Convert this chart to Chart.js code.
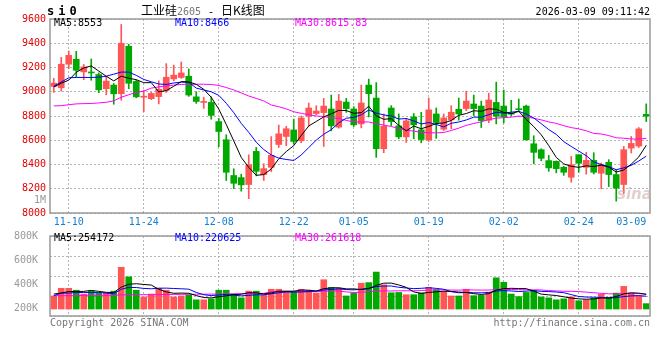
<!DOCTYPE html>
<html><head><meta charset="utf-8">
<script src="https://cdn.jsdelivr.net/npm/chart.js@4.4.1/dist/chart.umd.min.js"></script>
<style>
body{margin:0;background:#fff}
#wrap{position:relative;width:660px;height:360px;overflow:hidden;background:#fff}
canvas{position:absolute;left:0}
.t{position:absolute;font-family:"DejaVu Sans Mono",monospace;font-size:10px;line-height:12px;white-space:nowrap}
</style></head><body>
<div id="wrap">
<canvas id="pc" width="660" height="232" style="top:0"></canvas>
<canvas id="vc" width="660" height="100" style="top:226px"></canvas>
<div class="t" style="left:47px;top:5px;font-size:12px;font-weight:bold;letter-spacing:4px">si0</div>
<div class="t" style="left:141px;top:2px;font-size:12px;line-height:16px;font-family:'Noto Sans CJK SC',sans-serif;color:#000">工业硅<span style="font-family:'DejaVu Sans Mono',monospace;font-size:10px;color:#777">2605</span><span style="font-family:'DejaVu Sans Mono',monospace;font-size:11px"> - </span>日K线图</div>
<div class="t" style="right:10px;top:6px;color:#000">2026-03-09 09:11:42</div>
<div class="t" style="left:54px;top:17px;color:#000">MA5:8553</div>
<div class="t" style="left:175px;top:17px;color:#0000ff">MA10:8466</div>
<div class="t" style="left:295px;top:17px;color:#ff00ff">MA30:8615.83</div>
<div class="t" style="left:0;width:46px;text-align:right;top:194px;color:#999">1M</div>
<div class="t" style="left:54px;top:232px;color:#000">MA5:254172</div>
<div class="t" style="left:175px;top:232px;color:#0000ff">MA10:220625</div>
<div class="t" style="left:295px;top:232px;color:#ff00ff">MA30:261618</div>
<div class="t" style="left:50px;top:317px;color:#777">Copyright 2026 SINA.COM</div>
<div class="t" style="right:10px;top:317px;color:#777">http://finance.sina.com.cn</div>
<div class="t" style="left:617px;top:188px;font-family:'DejaVu Sans',sans-serif;font-size:15px;font-weight:bold;font-style:italic;color:rgba(200,170,170,0.55)">sina</div>
</div>
<script>
// ---- data ----
const dates = ['11-06','11-07','11-10','11-11','11-12','11-13','11-14','11-17','11-18','11-19','11-20','11-21','11-24','11-25','11-26','11-27','11-28','12-01','12-02','12-03','12-04','12-05','12-08','12-09','12-10','12-11','12-12','12-15','12-16','12-17','12-18','12-19','12-22','12-23','12-24','12-25','12-26','12-29','12-30','12-31','01-05','01-06','01-07','01-08','01-09','01-12','01-13','01-14','01-15','01-16','01-19','01-20','01-21','01-22','01-23','01-26','01-27','01-28','01-29','01-30','02-02','02-03','02-04','02-05','02-06','02-09','02-10','02-11','02-12','02-13','02-24','02-25','02-26','02-27','03-02','03-03','03-04','03-05','03-06','03-09'];
const tickDates = ['11-10','11-24','12-08','12-22','01-05','01-19','02-02','02-24','03-09'];
const openP  = [9044,9033,9227,9268,9164,9160,9142,9025,9055,8984,9375,9085,8955,8943,8960,9011,9106,9118,9128,8958,8912,8912,8754,8604,8309,8292,8235,8508,8317,8377,8565,8631,8685,8596,8798,8820,8828,8858,8708,8915,8858,8735,9055,8948,8530,8866,8719,8628,8792,8686,8604,8817,8691,8768,8855,8861,8899,8882,8765,8912,8882,8825,8858,8882,8571,8522,8432,8426,8377,8295,8481,8377,8434,8328,8418,8317,8235,8535,8552,8814];
const closeP = [9071,9227,9300,9177,9205,9155,9016,9088,8983,9400,9070,8958,8962,8986,9020,9120,9137,9155,8973,8920,8916,8805,8672,8336,8245,8232,8397,8344,8366,8475,8653,8695,8590,8784,8866,8841,8882,8719,8923,8861,8727,8907,8984,8530,8716,8754,8628,8760,8727,8606,8850,8746,8784,8831,8817,8923,8861,8762,8932,8798,8792,8815,8852,8604,8500,8451,8372,8366,8336,8399,8410,8434,8336,8396,8317,8205,8522,8574,8694,8798];
const highP  = [9110,9284,9336,9333,9225,9270,9156,9123,9068,9555,9392,9096,9014,8995,9090,9232,9220,9246,9188,9000,8955,8959,8780,8645,8365,8320,8480,8541,8407,8630,8725,8715,8774,8800,8907,8885,8945,8973,8978,8945,8877,9055,9104,9076,8817,8885,8817,8781,8820,8831,8948,8866,8817,8885,8948,9005,8973,8923,8989,9079,9014,8930,8940,8890,8637,8530,8475,8430,8385,8467,8481,8500,8497,8412,8440,8358,8549,8631,8705,8900];
const lowP   = [8995,9005,9190,9120,9100,9095,8992,8975,8897,8930,9025,8950,8836,8935,8900,8995,9090,9110,8962,8904,8863,8773,8547,8268,8202,8180,8118,8306,8268,8340,8540,8555,8569,8580,8718,8810,8549,8677,8699,8830,8713,8702,8792,8459,8497,8721,8612,8582,8612,8579,8590,8615,8680,8694,8765,8844,8803,8705,8745,8735,8743,8800,8835,8600,8407,8430,8344,8331,8311,8254,8336,8320,8322,8200,8218,8098,8161,8495,8540,8754];
const volume = [227000,360000,360000,327000,260000,310000,277000,277000,310000,725000,559000,327000,210000,260000,360000,327000,210000,227000,243000,160000,160000,177000,327000,327000,260000,194000,310000,310000,243000,343000,343000,310000,310000,343000,327000,277000,509000,376000,360000,227000,277000,448000,459000,642000,420000,282000,288000,249000,249000,282000,376000,338000,304000,227000,227000,343000,232000,238000,293000,542000,465000,260000,216000,288000,321000,210000,194000,160000,177000,210000,144000,160000,188000,255000,205000,277000,393000,277000,227000,94000];
// moving-average values before enough history is visible
const ma5Head  = [9040,9070,9096,9160];
const ma10Head = [9045,9080,9115,9118,9118,9118,9120,9128,9145];
const ma30Head = [8883,8885,8893,8900,8902,8903,8908,8913,8925,8955,8975,8995,9005,9030,9040,9048,9055,9060,9062,9062,9062,9060,9052,9035,9015,8990,8965,8945,8925];
const vma5Head  = [260000,277000,304000,304000];
const vma10Head = [232000,277000,277000,288000,288000,288000,288000,277000,266000];
const vma30Head = [232000,232000,232000,232000,238000,238000,238000,238000,240000,245000,249000,249000,249000,249000,250000,252000,254000,255000,256000,257000,258000,259000,260000,262000,264000,266000,268000,270000,272000];
const priceTicks = [8000,8200,8400,8600,8800,9000,9200,9400,9600];
const volTicks = [200000,400000,600000,800000];

// ---- helpers ----
function movingAvg(vals, n, head){
  return vals.map((v,i)=>{
    if(i < n-1) return head[i];
    let s=0; for(let j=i-n+1;j<=i;j++) s+=vals[j];
    return s/n;
  });
}
const UP='#ff5555', DOWN='#00a800', GRID='#b4b4b4';
const mono='"DejaVu Sans Mono", monospace';
const isUp = closeP.map((c,i)=>c>=openP[i]);
const candleColors = isUp.map(u=>u?UP:DOWN);
const gridDates = tickDates.slice(0,-1);

const framePlugin = {id:'frame', afterDraw(chart){
  const {ctx, chartArea:a} = chart;
  ctx.save(); ctx.strokeStyle='#9a9a9a'; ctx.lineWidth=1.5;
  ctx.strokeRect(a.left, a.top, a.right-a.left, a.bottom-a.top);
  ctx.restore();
}};

function xScale(showTicks){
  return {
    type:'category', offset:true,
    grid:{offset:false, drawTicks:false, lineWidth:1,
      color: c => (c.index!==undefined && gridDates.includes(dates[c.index])) ? GRID : 'rgba(0,0,0,0)'},
    border:{display:false, dash:[2,2]},
    ticks:{display:showTicks, autoSkip:false, maxRotation:0, minRotation:0, align:'inner', padding:3,
      color:'#1580d0', font:{family:mono,size:10},
      callback:(v,i)=> tickDates.includes(dates[i]) ? dates[i] : ''},
    afterFit: s => { s.height = showTicks ? 19 : 0; }
  };
}
const lineDs = (data,color,axis)=>({type:'line', data, borderColor:color, borderWidth:1, pointRadius:0, tension:0, order:0, yAxisID:axis});

new Chart(document.getElementById('pc'), {
  type:'bar',
  data:{labels:dates, datasets:[
    lineDs(movingAvg(closeP,5,ma5Head),'#000000','y'),
    lineDs(movingAvg(closeP,10,ma10Head),'#0000ff','y'),
    lineDs(movingAvg(closeP,30,ma30Head),'#ff00ff','y'),
    {type:'bar', data:openP.map((o,i)=>[o,closeP[i]]), backgroundColor:candleColors, barThickness:6, minBarLength:1, grouped:false, order:1, borderWidth:0},
    {type:'bar', data:lowP.map((l,i)=>[l,highP[i]]), backgroundColor:candleColors, barThickness:1, grouped:false, order:2, borderWidth:0}
  ]},
  options:{
    responsive:false, animation:false, devicePixelRatio:1,
    layout:{padding:{top:19,right:10,left:0,bottom:0}},
    plugins:{legend:{display:false}, tooltip:{enabled:false}},
    scales:{
      x:xScale(true),
      y:{min:8000,max:9600,
        afterBuildTicks: s => { s.ticks = priceTicks.map(v=>({value:v})); },
        grid:{drawTicks:false,color:GRID}, border:{display:false,dash:[2,2]},
        ticks:{padding:4,color:'#e60000',font:{family:mono,size:10}, callback:v=>String(v)},
        afterFit: s => { s.width = 50; }}
    }
  },
  plugins:[framePlugin]
});

new Chart(document.getElementById('vc'), {
  type:'bar',
  data:{labels:dates, datasets:[
    lineDs(movingAvg(volume,5,vma5Head),'#000000','yv'),
    lineDs(movingAvg(volume,10,vma10Head),'#0000ff','yv'),
    lineDs(movingAvg(volume,30,vma30Head),'#ff00ff','yv'),
    {type:'bar', data:volume, backgroundColor:candleColors, barThickness:6, order:1, borderWidth:0, yAxisID:'yv'}
  ]},
  options:{
    responsive:false, animation:false, devicePixelRatio:1,
    layout:{padding:{top:8,right:10,left:0,bottom:8}},
    plugins:{legend:{display:false}, tooltip:{enabled:false}},
    scales:{
      x:xScale(false),
      yv:{position:'left', min:-121000, max:1268000,
        ticks:{display:false,count:5}, grid:{drawTicks:false,color:GRID}, border:{display:false,dash:[2,2]},
        afterFit: s => { s.width = 0; }},
      yl:{position:'left', min:136600, max:800000,
        afterBuildTicks: s => { s.ticks = volTicks.map(v=>({value:v})); },
        grid:{display:false}, border:{display:false},
        ticks:{padding:4,color:'#999',font:{family:mono,size:10}, callback:v=> (v/1000)+'K'},
        afterFit: s => { s.width = 50; }}
    }
  },
  plugins:[framePlugin]
});
</script>
</body></html>
